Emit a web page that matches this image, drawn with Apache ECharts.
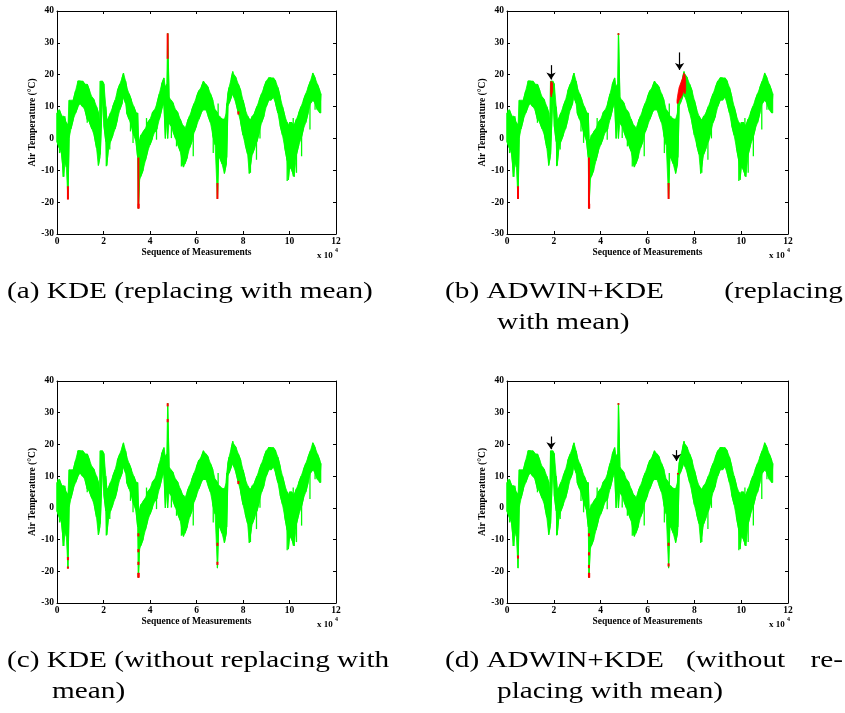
<!DOCTYPE html>
<html>
<head>
<meta charset="utf-8">
<script src="https://cdn.jsdelivr.net/npm/echarts@6/dist/echarts.min.js"></script>
<style>
  html, body { margin: 0; padding: 0; background: #fff; }
  #chart { width: 845px; height: 713px; }
</style>
</head>
<body>
<div id="chart"></div>
<script>
// sequence of measurements (x 10^4) and the upper / lower edge of the noisy temperature band
const measX = [0.0, 0.1, 0.2, 0.29, 0.35, 0.4, 0.47, 0.52, 0.6, 0.7, 0.8, 0.9, 1.0, 1.1, 1.2, 1.3, 1.4, 1.5, 1.6, 1.7,
  1.78, 1.84, 1.86, 1.95, 2.02, 2.1, 2.14, 2.2, 2.3, 2.4, 2.5, 2.6, 2.7, 2.8, 2.86, 2.95, 3.0, 3.1, 3.2, 3.3,
  3.4, 3.47, 3.5, 3.55, 3.6, 3.7, 3.8, 3.9, 4.0, 4.1, 4.2, 4.3, 4.4, 4.5, 4.6, 4.66, 4.72, 4.76, 4.82, 4.9,
  5.0, 5.1, 5.2, 5.3, 5.4, 5.44, 5.5, 5.6, 5.7, 5.8, 5.9, 6.0, 6.1, 6.2, 6.3, 6.4, 6.5, 6.6, 6.7, 6.8,
  6.9, 6.95, 7.0, 7.1, 7.2, 7.28, 7.3, 7.35, 7.4, 7.5, 7.56, 7.6, 7.7, 7.8, 7.9, 8.0, 8.1, 8.2, 8.27, 8.35,
  8.4, 8.5, 8.6, 8.7, 8.8, 8.9, 9.0, 9.1, 9.2, 9.3, 9.4, 9.5, 9.6, 9.7, 9.8, 9.9, 9.95, 10.0, 10.1, 10.2,
  10.3, 10.4, 10.5, 10.6, 10.7, 10.8, 10.9, 11.0, 11.1, 11.2, 11.3, 11.35];
const tempHigh = [8, 9, 7, 7, 6, 5, 4, 12, 12, 12, 15, 18, 18, 18, 17, 17, 15, 13, 12, 10,
  8, 5, 18, 18, 17, 10, 6, 6, 8, 10, 12, 15, 17, 19, 20.5, 18, 16, 14, 12, 10,
  8, 8, 0, -1, 1, 2, 3, 5, 6, 8, 9, 11, 14, 17, 19, 16, 17, 33, 13, 12,
  11, 9, 8, 6, 4, 4, 3, 5, 7, 9, 11, 13, 15, 16, 18, 17, 16, 14, 12, 9,
  8, 7, 7, 6, 6, 8, 11, 14, 16, 19, 21, 20, 19, 17, 15, 12, 9, 7, 6, 6,
  7, 8, 10, 12, 14, 16, 18, 19, 19, 19, 18, 16, 13, 10, 7, 5, 4, 5, 5, 4,
  6, 8, 10, 12, 14, 16, 18, 20.5, 19, 17, 15, 14];
const tempLow = [-1, -3, -5, -12, -7, -9, -19, 0, 3, 6, 8, 10, 11, 10, 9, 6, 5, 3, 1, -3,
  -8.5, -6, -5, 13, 4, -1, -8.5, -4, -1, 1, 3, 6, 9, 11, 13, 11, 8, 6, 4, 1,
  -1, -6, -22, -13, -12, -10, -7, -4, -2, 0, 2, 3, 6, 9, 11, 0, 6, 0, 5, 4,
  2, 0, -2, -4, -8, -9, -8, -6, -3, -1, 2, 4, 6, 8, 9, 9, 7, 5, 1, -2,
  -19, -6, -6, -8, -11, -8, -6, 10, 11, 13, 14, 13, 11, 8, 5, 1, -2, -5, -11, -7,
  -5, -3, -1, 2, 5, 7, 10, 12, 12, 13, 11, 8, 4, 1, -3, -7, -13, -9, -10, -12,
  -5, -2, 0, 3, 5, 8, 11, 12, 11, 9, 8, 8];

// single noisy excursions sticking out of the band: [x, top, bottom]
const noiseSpikes = [[0.04, 9, 2], [0.11, 3, -4.6], [0.26, 2, -12], [0.34, 7, 0], [1.3, 12, 4.9], [1.55, 8, 2.7],
  [1.74, 5, -2.5], [2.12, 5, -8.7], [2.27, 3, -3.5], [3.16, 10, 2.2], [3.27, 7, -1.4], [3.85, 6.4, -2],
  [4.28, 8, -0.4], [4.92, 8, 0.1], [5.14, 6, -2.5], [5.35, 4, -8.8], [5.64, 6, -3], [5.86, 8, -5.6],
  [6.72, 10, -4.6], [6.93, 11, -8.8], [7.08, 6.4, -4], [8.22, 6, -2.5], [8.32, 5, -10.8], [8.58, 7, -6.7],
  [8.73, 9, 0], [9.9, 5, -13.4], [10.16, 6.4, -11.9], [10.3, 6, -10.8], [10.52, 8, -5.6], [10.88, 14, 2.8], [11.1, 18, 9]];

// red (flagged) vertical runs: [x, top, bottom]
const redA = [[0.47, -15, -19.2], [3.5, -6, -22], [3.51, -20.5, -22], [4.76, 33, 25], [6.9, -14, -19], [7.8, 8.5, 7.5]];
const redB = [[0.47, -15, -19], [3.5, -6, -22], [3.51, -20.5, -22], [4.76, 33, 32.5], [6.9, -14, -19]];
const redC = [[0.47, -15.5, -16.5], [0.47, -18.5, -19.2], [3.5, -8, -9], [3.5, -13, -14], [3.5, -17, -18],
  [3.5, -20.5, -22], [3.51, -20.5, -22], [4.76, 32, 33], [4.76, 27, 28], [6.9, -11, -12], [6.9, -17, -18], [7.8, 8.5, 7.5]];
const redD = [[0.47, -15, -16], [3.5, -8, -9], [3.5, -14, -15], [3.5, -18, -19], [3.5, -20.5, -22], [3.51, -20.5, -22],
  [4.76, 33, 32.5], [6.9, -11, -12], [6.9, -17.5, -18.5], [7.3, 11, 10.5]];

// red drift blocks in (b)
const driftX1 = [1.86, 1.89, 1.92, 1.95];
const driftHigh1 = [17.5, 18, 17.5, 17.5];
const driftLow1 = [14, 13, 14, 15];
const driftX2 = [7.26, 7.3, 7.35, 7.4, 7.45, 7.5, 7.55, 7.6, 7.63];
const driftHigh2 = [12, 14, 16, 17, 18, 19, 20.5, 20, 18];
const driftLow2 = [11, 11, 12, 12.5, 13, 14, 15, 14, 15];

// arrows: [x, from, to]
const arrowsB = [[1.88, 23, 18.5], [7.37, 27, 21.5]];
const arrowsD = [[1.88, 22.5, 18.5], [7.24, 18.2, 14.8]];

const xTicks = [0, 12, 2];   // min, max, step
const yTicks = [-30, 40, 10];

const captions = [
  ['(a) KDE (replacing with mean)'],
  ['(b) ADWIN+KDE', '(replacing', 'with mean)'],
  ['(c) KDE (without replacing with', 'mean)'],
  ['(d) ADWIN+KDE', '(without', 're-', 'placing with mean)']
];

const GREEN = '#00ff00';
const RED = '#ff0000';
const SERIF = '"Liberation Serif", "Times New Roman", serif';

const panels = [
  { left: 57, top: 11, width: 279, height: 223, red: redA, drift: false, arrows: [] },
  { left: 507, top: 11, width: 281, height: 223, red: redB, drift: true, arrows: arrowsB },
  { left: 57, top: 381, width: 279, height: 222, red: redC, drift: false, arrows: [] },
  { left: 507, top: 381, width: 281, height: 222, red: redD, drift: false, arrows: arrowsD }
];

function zigzag(xs, hi, lo) {
  const out = [];
  xs.forEach((x, i) => {
    if (i % 2 === 0) out.push([x, hi[i]], [x, lo[i]]);
    else out.push([x, lo[i]], [x, hi[i]]);
  });
  return out;
}

function bandSeries(k, xs, hi, lo, color, z) {
  return {
    type: 'custom', xAxisIndex: k * 2, yAxisIndex: k * 2, z: z, silent: true,
    data: [[xs[0], hi[0]]],
    renderItem(params, api) {
      const pts = [];
      for (let i = 0; i < xs.length; i++) pts.push(api.coord([xs[i], hi[i]]));
      for (let i = xs.length - 1; i >= 0; i--) pts.push(api.coord([xs[i], lo[i]]));
      return { type: 'polygon', shape: { points: pts }, style: { fill: color, stroke: color, lineWidth: 0.8 } };
    }
  };
}

function segSeries(k, segs, color, width, z) {
  return {
    type: 'custom', xAxisIndex: k * 2, yAxisIndex: k * 2, z: z, silent: true,
    data: segs,
    encode: { x: 0, y: [1, 2] },
    renderItem(params, api) {
      const a = api.coord([api.value(0), api.value(1)]);
      const b = api.coord([api.value(0), api.value(2)]);
      return { type: 'line', shape: { x1: a[0], y1: a[1], x2: b[0], y2: b[1] }, style: { stroke: color, lineWidth: width } };
    }
  };
}

const tickFont = { color: '#000', fontFamily: SERIF, fontWeight: 'bold', fontSize: 9.5 };
const nameFont = { color: '#000', fontFamily: SERIF, fontWeight: 'bold', fontSize: 9.5 };
const grid = [], xAxis = [], yAxis = [], series = [], graphic = [];

panels.forEach((p, k) => {
  grid.push({ left: p.left, top: p.top, width: p.width, height: p.height, containLabel: false });
  const line = { show: true, onZero: false, lineStyle: { color: '#000', width: 1 } };
  const tick = { show: true, inside: true, length: 3, lineStyle: { color: '#000' } };
  xAxis.push({
    type: 'value', gridIndex: k, min: xTicks[0], max: xTicks[1], interval: xTicks[2],
    axisLine: line, axisTick: tick, splitLine: { show: false },
    axisLabel: Object.assign({ margin: 3 }, tickFont),
    name: 'Sequence of Measurements', nameLocation: 'middle', nameGap: 13, nameTextStyle: nameFont
  });
  xAxis.push({
    type: 'value', gridIndex: k, position: 'top', min: xTicks[0], max: xTicks[1], interval: xTicks[2],
    axisLine: line, axisTick: tick, splitLine: { show: false }, axisLabel: { show: false }
  });
  yAxis.push({
    type: 'value', gridIndex: k, min: yTicks[0], max: yTicks[1], interval: yTicks[2],
    axisLine: line, axisTick: tick, splitLine: { show: false },
    axisLabel: Object.assign({ margin: 3 }, tickFont),
    name: 'Air Temperature (°C)', nameLocation: 'middle', nameGap: 11, nameTextStyle: nameFont
  });
  yAxis.push({
    type: 'value', gridIndex: k, position: 'right', min: yTicks[0], max: yTicks[1], interval: yTicks[2],
    axisLine: line, axisTick: tick, splitLine: { show: false }, axisLabel: { show: false }
  });

  series.push(bandSeries(k, measX, tempHigh, tempLow, GREEN, 2));
  series.push({
    type: 'line', xAxisIndex: k * 2, yAxisIndex: k * 2, z: 3, silent: true,
    data: zigzag(measX, tempHigh, tempLow), showSymbol: false, symbol: 'none',
    lineStyle: { color: GREEN, width: 1.2 },
    markLine: p.arrows.length ? {
      silent: true, symbol: ['none', 'arrow'], symbolSize: 7, animation: false,
      label: { show: false },
      lineStyle: { color: '#000', width: 1.2, type: 'solid' },
      data: p.arrows.map(a => [{ coord: [a[0], a[1]] }, { coord: [a[0], a[2]] }])
    } : undefined
  });
  series.push(segSeries(k, noiseSpikes, GREEN, 1.3, 3));
  if (p.drift) {
    series.push(bandSeries(k, driftX1, driftHigh1, driftLow1, RED, 4));
    series.push(bandSeries(k, driftX2, driftHigh2, driftLow2, RED, 4));
  }
  series.push(segSeries(k, p.red, RED, 2, 5));

  const R = p.left + p.width, B = p.top + p.height;
  graphic.push({ type: 'text', x: R - 19, y: B + 22, style: { text: 'x 10', font: 'bold 9px ' + SERIF, fill: '#000', verticalAlign: 'middle' } });
  graphic.push({ type: 'text', x: R - 1, y: B + 16, style: { text: '4', font: 'bold 6px ' + SERIF, fill: '#000', verticalAlign: 'middle' } });
});

// captions (serif, stretched to the width of the original typesetting)
const capFont = '24px ' + SERIF;
function cap(text, x, y, align) {
  graphic.push({ type: 'text', x: x, y: y, scaleX: 1.22, style: { text: text, font: capFont, fill: '#000', align: align || 'left', verticalAlign: 'middle' } });
}
cap(captions[0][0], 7, 292);
cap(captions[1][0], 445, 292);
cap(captions[1][1], 843, 292, 'right');
cap(captions[1][2], 497, 323);
cap(captions[2][0], 7, 661);
cap(captions[2][1], 52, 692);
cap(captions[3][0], 445, 661);
cap(captions[3][1], 686, 661);
cap(captions[3][2], 843, 661, 'right');
cap(captions[3][3], 497, 692);

const chart = echarts.init(document.getElementById('chart'), null, { renderer: 'canvas' });
chart.setOption({
  animation: false,
  backgroundColor: '#fff',
  grid: grid,
  xAxis: xAxis,
  yAxis: yAxis,
  series: series,
  graphic: graphic
});
</script>
</body>
</html>
